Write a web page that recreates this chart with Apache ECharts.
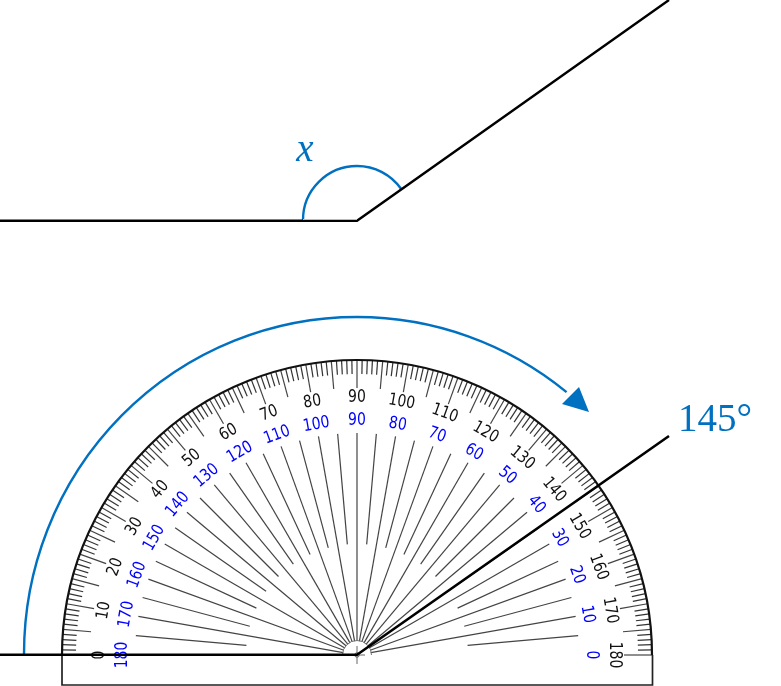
<!DOCTYPE html>
<html>
<head>
<meta charset="utf-8">
<style>
html, body { margin: 0; padding: 0; background: #fff; }
#chart { width: 781px; height: 686px; }
</style>
<script src="https://cdn.jsdelivr.net/npm/echarts@6/dist/echarts.min.js"></script>
</head>
<body>
<div id="chart"></div>
<script>
// 量角器读数
const blackLabels = [0, 10, 20, 30, 40, 50, 60, 70, 80, 90, 100, 110, 120, 130, 140, 150, 160, 170, 180];
const blueLabels = [180, 170, 160, 150, 140, 130, 120, 110, 100, 90, 80, 70, 60, 50, 40, 30, 20, 10, 0];
const spokesLong = [0, 10, 20, 30, 40, 50, 60, 70, 80, 90, 100, 110, 120, 130, 140, 150, 160, 170];
const spokesShort = [5, 15, 25, 35, 45, 55, 65, 75, 85, 95, 105, 115, 125, 135, 145, 155, 165, 175];
const ticksMajor = [0, 5, 10, 15, 20, 25, 30, 35, 40, 45, 50, 55, 60, 65, 70, 75, 80, 85, 90, 95, 100, 105, 110, 115, 120, 125, 130, 135, 140, 145, 150, 155, 160, 165, 170, 175, 180];

// 图形的线段
const upperAngle = [[0, 220.7], [357, 220.7], [669, 0]];
const lowerAngle = [[0, 654.8], [357, 654.8], [669, 436]];
const baseBox = [[62, 655], [62, 685], [652.5, 685], [652.5, 655]];
const arrowHead = [[589, 412], [579, 387], [562, 404]];

const BLUE = '#0070C0';
const CENTER = [357, 655];
const R_OUTER = 295;

const chart = echarts.init(document.getElementById('chart'));

function lineSeries(points, color, width) {
    return {
        type: 'line',
        data: points,
        showSymbol: false,
        silent: true,
        clip: false,
        z: 5,
        lineStyle: { color: color, width: width, cap: 'butt', join: 'miter' }
    };
}

// 径向线：r0 到 r1
function radialSeries(degrees, r0, r1, color, width) {
    return {
        type: 'custom',
        coordinateSystem: 'polar',
        silent: true,
        z: 2,
        data: degrees.map(d => [r1, d]),
        renderItem: function (params, api) {
            const a = api.coord([r0, api.value(1)]);
            const b = api.coord([api.value(0), api.value(1)]);
            return {
                type: 'line',
                shape: { x1: a[0], y1: a[1], x2: b[0], y2: b[1] },
                style: { stroke: color, lineWidth: width }
            };
        }
    };
}

// 刻度文字，沿圆弧切向旋转，原图字形偏高所以纵向拉伸
function labelSeries(labels, radius, color) {
    return {
        type: 'custom',
        coordinateSystem: 'polar',
        silent: true,
        z: 4,
        data: labels.map((label, i) => [radius, i * 10, label]),
        renderItem: function (params, api) {
            const p = api.coord([api.value(0), api.value(1)]);
            return {
                type: 'text',
                x: p[0],
                y: p[1],
                rotation: (90 - api.value(1)) * Math.PI / 180,
                scaleY: 1.2,
                style: {
                    text: String(api.value(2)),
                    fill: color,
                    font: '14px "DejaVu Sans"',
                    align: 'center',
                    verticalAlign: 'middle'
                }
            };
        }
    };
}

// 圆弧，角度按数学方向给出
function arcSeries(cx, cy, rx, ry, from, to, color, width, fill) {
    return {
        type: 'custom',
        silent: true,
        clip: false,
        z: 3,
        data: [[cx, cy]],
        renderItem: function (params, api) {
            const c = api.coord([api.value(0), api.value(1)]);
            return {
                type: 'arc',
                x: c[0],
                y: c[1],
                scaleY: ry / rx,
                shape: {
                    cx: 0, cy: 0, r: rx,
                    startAngle: -from * Math.PI / 180,
                    endAngle: -to * Math.PI / 180,
                    clockwise: true
                },
                style: { stroke: color, lineWidth: width, fill: fill || null }
            };
        }
    };
}

const minorTicks = [];
for (let d = 0; d <= 180; d++) {
    if (d % 5 !== 0) minorTicks.push(d);
}

const option = {
    animation: false,
    backgroundColor: '#fff',
    grid: { left: 0, right: 0, top: 0, bottom: 0 },
    xAxis: { type: 'value', min: 0, max: 781, show: false },
    yAxis: { type: 'value', min: 0, max: 686, inverse: true, show: false },
    polar: { center: CENTER, radius: R_OUTER },
    angleAxis: { type: 'value', min: 0, max: 360, startAngle: 180, clockwise: true, show: false },
    radiusAxis: { type: 'value', min: 0, max: R_OUTER, show: false },
    series: [
        radialSeries(minorTicks, R_OUTER - 14, R_OUTER, '#333', 1.2),
        radialSeries(ticksMajor, R_OUTER - 28, R_OUTER, '#444', 1.2),
        radialSeries(spokesLong, 14, 222, '#444', 1.2),
        radialSeries(spokesShort, 111, 222, '#444', 1.2),
        labelSeries(blackLabels, 257, '#111'),
        labelSeries(blueLabels, 234, '#0000ff'),
        arcSeries(CENTER[0], CENTER[1], R_OUTER, R_OUTER, 180, 0, '#111', 2.2),
        arcSeries(CENTER[0], CENTER[1], 14.5, 14.5, 180, 0, '#777', 1),
        lineSeries(baseBox, '#222', 1.7),
        // 中心十字
        lineSeries([[357, 646], [357, 664]], '#666', 1),
        lineSeries([[357, 655], [365, 655]], '#666', 1),
        arcSeries(CENTER[0], CENTER[1], 2.2, 2.2, 0, 360, '#555', 1),
        lineSeries(upperAngle, '#000', 2.4),
        lineSeries(lowerAngle, '#000', 2.6),
        // 角 x 的圆弧与底边
        arcSeries(357, 220, 54, 54, 180, 35, BLUE, 2.4),
        lineSeries([[303, 219.5], [357, 219.5]], '#9cc3e4', 1),
        // 145° 的大箭头
        arcSeries(357, 654, 333, 337, 180, 51, BLUE, 2.4),
        {
            type: 'custom',
            silent: true,
            clip: false,
            z: 6,
            data: arrowHead,
            renderItem: function (params, api) {
                if (params.dataIndex !== 0) return null;
                return {
                    type: 'polygon',
                    shape: { points: arrowHead.map(p => api.coord(p)) },
                    style: { fill: BLUE }
                };
            }
        },
        // 文字标注
        {
            type: 'custom',
            silent: true,
            clip: false,
            z: 6,
            data: [[305, 151, 'x'], [715, 421, '145°']],
            renderItem: function (params, api) {
                const p = api.coord([api.value(0), api.value(1)]);
                const isX = api.value(2) === 'x';
                return {
                    type: 'text',
                    x: p[0],
                    y: p[1],
                    style: {
                        text: String(api.value(2)),
                        fill: BLUE,
                        font: isX ? 'italic 39px "Liberation Serif"' : '39px "Liberation Serif"',
                        align: 'center',
                        verticalAlign: 'middle'
                    }
                };
            }
        }
    ]
};

chart.setOption(option);
</script>
</body>
</html>
